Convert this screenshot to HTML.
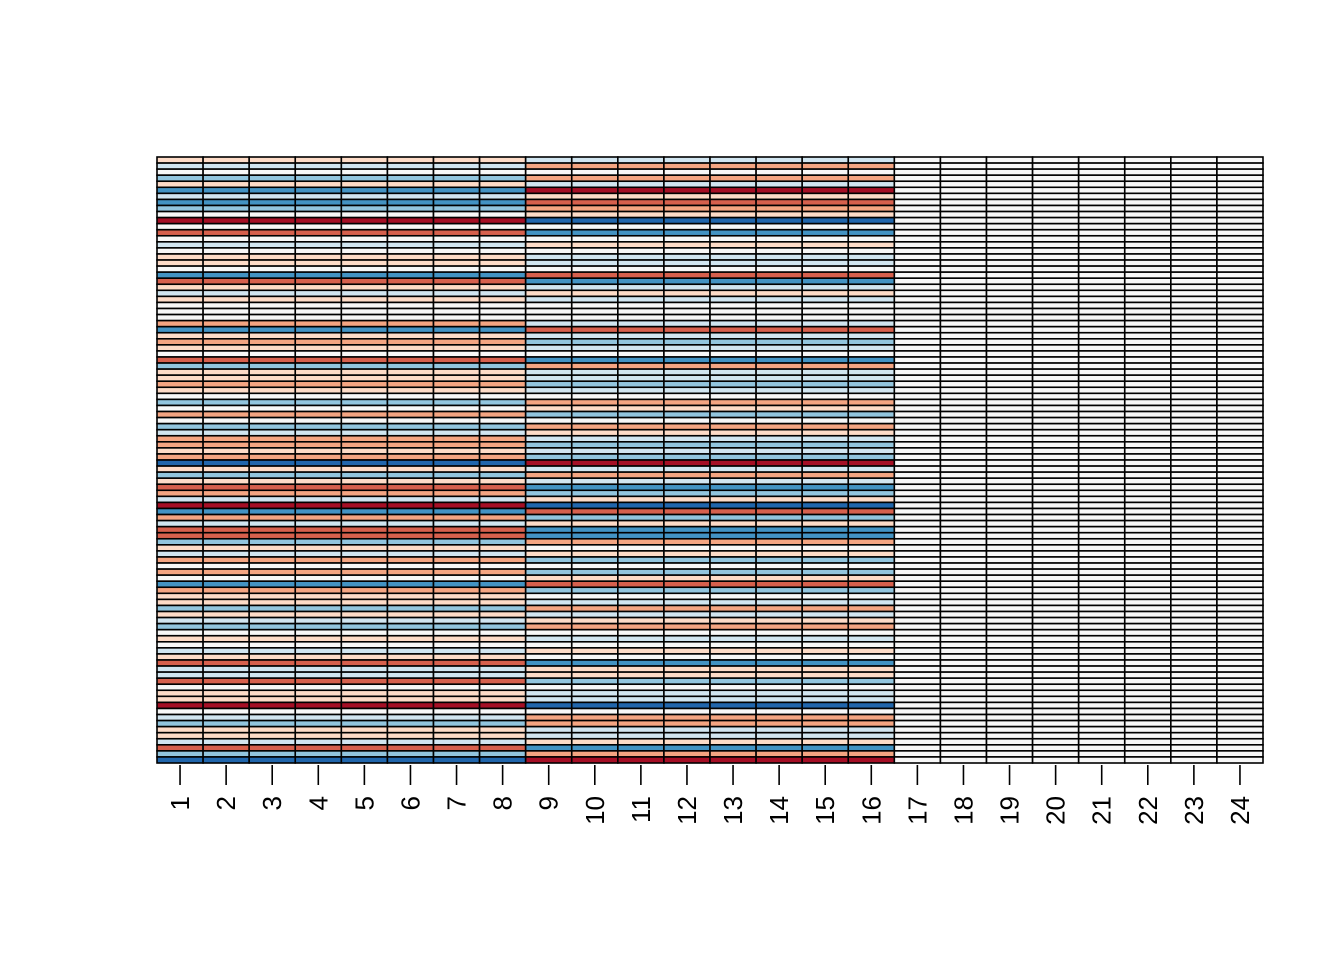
<!DOCTYPE html>
<html><head><meta charset="utf-8"><style>
html,body{margin:0;padding:0;background:#fff;}
svg{display:block;}
</style></head><body>
<svg id="chart" width="1344" height="960" xmlns="http://www.w3.org/2000/svg">
<rect width="1344" height="960" fill="#ffffff"/>
<g id="cells"></g>
<g id="axis"></g>
</svg>
<script>
const columns = ["1","2","3","4","5","6","7","8","9","10","11","12","13","14","15","16","17","18","19","20","21","22","23","24"];
// levels: 4 dark red ... 0 white ... -4 dark blue ; row 1 at top
const groupA = [1,-1,0,-2,1,-3,-1,-3,-2,0,4,0,3,0,-1,0,1,1,0,-3,3,1,-1,1,0,
0,0,2,-3,1,2,1,0,3,-2,1,1,2,1,0,-2,0,2,0,-2,-1,2,2,1,2,-4,
1,-2,1,3,2,-1,4,-3,2,-1,3,3,-2,1,-1,2,0,2,0,-3,2,1,1,-2,1,
-1,-2,0,1,0,-1,1,3,-1,-1,3,0,1,1,4,0,-1,-2,1,1,-1,3,-2,-4];
const groupB = [-1,2,0,2,-1,4,1,3,2,1,-4,0,-3,0,1,0,-1,-1,0,3,-3,-1,1,-1,0,
0,0,-1,3,-1,-2,-1,0,-3,2,-1,-1,-2,-1,0,2,1,-2,0,2,1,-1,-2,-1,-2,4,
-1,2,-1,-3,-2,1,-4,3,-2,1,-3,-3,2,0,1,-2,0,-2,1,3,-2,0,-1,2,-1,
1,2,0,-1,0,1,0,-3,1,1,-2,0,-1,-1,-4,0,2,2,-1,-1,1,-3,2,4];
const groupC = groupA.map(()=>0);
const colGroup = ["A","A","A","A","A","A","A","A","B","B","B","B","B","B","B","B","C","C","C","C","C","C","C","C"];

const palette = {"4":"#a50f25","3":"#d6604d","2":"#f4a582","1":"#fddbc7","0":"#f7f7f7","-1":"#d1e5f0","-2":"#92c5de","-3":"#4393c3","-4":"#2166ac"};
const X0=157,X1=1263,Y0=157,Y1=763;
const nCols=columns.length, nRows=groupA.length;
const cw=(X1-X0)/nCols, rh=(Y1-Y0)/nRows;
const xPos=i=>X0+i*cw, yPos=r=>Y0+r*rh;
const NS="http://www.w3.org/2000/svg";
const cells=document.getElementById('cells');
const groups={A:groupA,B:groupB,C:groupC};
for(let c=0;c<nCols;c++){
  const vals=groups[colGroup[c]];
  for(let r=0;r<nRows;r++){
    const el=document.createElementNS(NS,'rect');
    el.setAttribute('x',xPos(c));el.setAttribute('y',yPos(r));
    el.setAttribute('width',cw);el.setAttribute('height',rh);
    el.setAttribute('fill',palette[String(vals[r])]);
    el.setAttribute('stroke','#000');el.setAttribute('stroke-width','1.6');
    
    
    cells.appendChild(el);
  }
}
const axis=document.getElementById('axis');
columns.forEach((lab,i)=>{
  const x=xPos(i)+cw/2;
  const t=document.createElementNS(NS,'line');
  t.setAttribute('x1',x);t.setAttribute('x2',x);t.setAttribute('y1',765);t.setAttribute('y2',785);
  t.setAttribute('stroke','#000');t.setAttribute('stroke-width','1.6');
  
  
  axis.appendChild(t);
  const tx=document.createElementNS(NS,'text');
  tx.setAttribute('transform','translate('+(x+9)+',796) rotate(-90)');
  tx.setAttribute('text-anchor','end');
  tx.setAttribute('font-family','Liberation Sans, Arial, sans-serif');
  tx.setAttribute('font-size','26');
  tx.textContent=lab;
  
  
  axis.appendChild(tx);
});
</script>
</body></html>
